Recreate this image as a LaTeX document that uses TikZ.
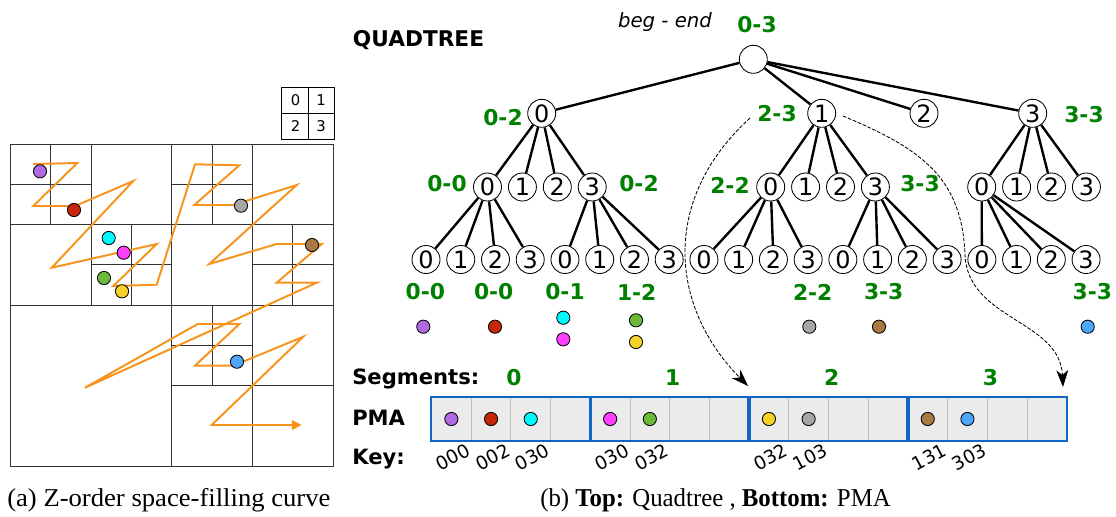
\documentclass[tikz,border=0pt]{standalone}
\usepackage{fontspec}
\setmainfont{Liberation Serif}
\setsansfont{DejaVu Sans}
\usepackage{xcolor}
\usepackage{tikz}
\usetikzlibrary{positioning,arrows.meta}

\definecolor{zcurve}{RGB}{247,148,30}
\definecolor{rangegreen}{RGB}{0,128,0}
\definecolor{segblue}{RGB}{16,100,196}
\definecolor{cellgray}{RGB}{235,235,235}
\definecolor{celledge}{RGB}{190,190,190}
\definecolor{cpurple}{RGB}{178,106,226}
\definecolor{cred}{RGB}{198,38,10}
\definecolor{ccyan}{RGB}{0,250,250}
\definecolor{cmagenta}{RGB}{255,64,255}
\definecolor{cgreen}{RGB}{108,186,60}
\definecolor{cyellow}{RGB}{245,210,40}
\definecolor{cgray}{RGB}{166,166,166}
\definecolor{cbrown}{RGB}{170,120,66}
\definecolor{cblue}{RGB}{78,166,250}

\newcommand{\fsz}[1]{\fontsize{#1}{#1}\selectfont}

\begin{document}
\begin{tikzpicture}[x=0.025cm, y=-0.025cm,
	qnode/.style={circle, draw, line width=0.6pt, minimum size=0.7cm, inner sep=0pt, font=\sffamily\fsz{17}},
	branch/.style={line width=1.7pt},
	rangelab/.style={text=rangegreen, font=\sffamily\bfseries\fsz{15.5}, inner sep=0pt},
	datum/.style={circle, draw, line width=0.6pt, fill=#1, minimum size=0.33cm, inner sep=0pt},
	cell/.style={rectangle, draw=celledge, fill=cellgray, line width=0.7pt, minimum width=0.9925cm, minimum height=1.085cm, inner sep=0pt},
	segbox/.style={draw=segblue, line width=1.8pt},
	keylab/.style={font=\sffamily\fsz{13.2}, rotate=28, inner sep=0pt},
	rowlab/.style={font=\sffamily\bfseries\fsz{15}, anchor=west, inner sep=0pt},
	gridline/.style={draw=black!80, line width=0.7pt},
	zpath/.style={draw=zcurve, line width=1.4pt, -{Triangle[length=7pt,width=7pt]}},
	link/.style={dash pattern=on 2.6pt off 1.2pt, line width=0.6pt, -{Stealth[length=12pt,width=8.5pt,inset=3.5pt]}},
	caption/.style={anchor=west, font=\fsz{18.3}, inner sep=0pt}]
	\useasboundingbox (0,0) rectangle (1116,516);

	% space filling curve
	\begin{scope}[shift={(10.7,144)}, scale=40.29]
		\draw[gridline] (0,0) rectangle (8,8);
		\draw[gridline] (4,0) -- (4,8) (0,4) -- (8,4) (0,2) -- (8,2) (6,0) -- (6,8)
			(2,0) -- (2,4) (1,0) -- (1,2) (0,1) -- (2,1) (3,2) -- (3,4) (2,3) -- (4,3)
			(5,0) -- (5,2) (4,1) -- (6,1) (7,2) -- (7,4) (6,3) -- (8,3)
			(4,6) -- (8,6) (5,4) -- (5,6) (4,5) -- (6,5);
	\end{scope}
	\draw[line width=0.7pt] (281.7,87.3) rectangle (334.5,139.3) (308,87.3) -- (308,139.3) (281.7,113.3) -- (334.5,113.3);
	\node[font=\sffamily\fsz{10.5}] (q0) at (295.5,100.3) {0};
	\node[font=\sffamily\fsz{10.5}] (q1) at (321,100.3) {1};
	\node[font=\sffamily\fsz{10.5}] (q2) at (295.5,126.3) {2};
	\node[font=\sffamily\fsz{10.5}] (q3) at (321,126.3) {3};

	\draw[zpath] (33.3,164) -- (77.3,163) -- (33.3,206) -- (75,206) -- (133.3,181) -- (51.7,267.7)
		-- (156.7,244) -- (113.3,286) -- (156.7,284.7) -- (195,164.3) -- (239.3,165.3) -- (194.3,205)
		-- (233.3,205) -- (296.7,185) -- (209.3,264) -- (276.7,244) -- (321.7,244) -- (276.7,282.7)
		-- (316.7,282.7) -- (85,387.7) -- (197.7,324) -- (239.3,324) -- (195,365.7) -- (233.3,365.7)
		-- (303.3,336.7) -- (211.7,425) -- (301.7,425);

	\node[datum=cpurple] (gpurple) at (40,171.3) {};
	\node[datum=cred] (gred) at (74,210) {};
	\node[datum=ccyan] (gcyan) at (108.7,238) {};
	\node[datum=cmagenta] (gmagenta) at (123.7,252.7) {};
	\node[datum=cgreen] (ggreen) at (104,278) {};
	\node[datum=cyellow] (gyellow) at (122,291.3) {};
	\node[datum=cgray] (ggray) at (241,205.7) {};
	\node[datum=cbrown] (gbrown) at (312,245) {};
	\node[datum=cblue] (gblue) at (237,361.7) {};

	% quadtree
	\node[font=\sffamily\bfseries\fsz{15.4}] (title) at (418.5,40.5) {QUADTREE};
	\node[font=\sffamily\itshape\fsz{14}] (begend) at (665,22) {beg - end};

	\node[qnode] (r) at (753.3,59.3) {};
	\node[qnode] (a0) at (541.7,113.3) {0};
	\node[qnode] (a1) at (821.7,113.3) {1};
	\node[qnode] (a2) at (924,113.3) {2};
	\node[qnode] (a3) at (1032.7,113.3) {3};
	\foreach \i in {0,...,3}
		\draw[branch] (r) -- (a\i);

	\foreach \p/\x in {0/487.5, 1/770.7, 3/981.7}
		\foreach \i in {0,...,3} {
			\node[qnode] (b\p\i) at (\x+34.9*\i,187) {\i};
			\draw[branch] (a\p) -- (b\p\i);
		}

	\foreach \k in {0,...,19} {
		\pgfmathtruncatemacro{\d}{mod(\k,4)}
		\node[qnode] (c\k) at (426+34.74*\k,259.5) {\d};
	}
	\foreach \p/\k in {b00/0, b03/4, b10/8, b13/12, b30/16}
		\foreach \j in {0,...,3} {
			\pgfmathtruncatemacro{\n}{\k+\j}
			\draw[branch] (\p) -- (c\n);
		}

	\node[rangelab] (l03) at (757,25) {0-3};
	\node[rangelab] (l02) at (503,118) {0-2};
	\node[rangelab] (l23) at (777,114) {2-3};
	\node[rangelab] (l33) at (1084,115) {3-3};
	\node[rangelab] (m00) at (447,184) {0-0};
	\node[rangelab] (m02) at (639,184) {0-2};
	\node[rangelab] (m22) at (730,185) {2-2};
	\node[rangelab] (m33) at (920,184) {3-3};
	\foreach \x/\t [count=\i] in {425.3/0-0, 493.7/0-0, 565/0-1, 636.7/1-2, 812.7/2-2, 883.7/3-3, 1092.3/3-3}
		\node[rangelab] (n\i) at (\x,292) {\t};

	\node[datum=cpurple] (tpurple) at (423.3,326.7) {};
	\node[datum=cred] (tred) at (495,326.7) {};
	\node[datum=ccyan] (tcyan) at (563.3,317.7) {};
	\node[datum=cmagenta] (tmagenta) at (563.3,339.3) {};
	\node[datum=cgreen] (tgreen) at (636,320.3) {};
	\node[datum=cyellow] (tyellow) at (636,342) {};
	\node[datum=cgray] (tgray) at (809.3,326.7) {};
	\node[datum=cbrown] (tbrown) at (879,326.7) {};
	\node[datum=cblue] (tblue) at (1087.7,326.7) {};

	% packed memory array
	\node[rowlab] (seglabel) at (352,378.5) {Segments:};
	\node[rowlab] (pmalabel) at (352,417.5) {PMA};
	\node[rowlab] (keylabel) at (352,459) {Key:};

	\foreach \k in {0,...,15}
		\node[cell] (p\k) at (451.35+39.7*\k,419) {};
	\foreach \s in {0,...,3} {
		\pgfmathtruncatemacro{\a}{4*\s}
		\pgfmathtruncatemacro{\b}{4*\s+3}
		\draw[segbox] (p\a.north west) rectangle (p\b.south east);
		\node[text=rangegreen, font=\sffamily\bfseries\fsz{15.5}] (s\s) at (514+158.8*\s,377.5) {\s};
	}

	\node[datum=cpurple] (ppurple) at (p0) {};
	\node[datum=cred] (pred) at (p1) {};
	\node[datum=ccyan] (pcyan) at (p2) {};
	\node[datum=cmagenta] (pmagenta) at (p4) {};
	\node[datum=cgreen] (pgreen) at (p5) {};
	\node[datum=cyellow] (pyellow) at (p8) {};
	\node[datum=cgray] (pgray) at (p9) {};
	\node[datum=cbrown] (pbrown) at (p12) {};
	\node[datum=cblue] (pblue) at (p13) {};

	\foreach \k/\t in {0/000, 1/002, 2/030, 4/030, 5/032, 8/032, 9/103, 12/131, 13/303}
		\node[keylab] (k\k) at (453+39.7*\k,457) {\t};

	\coordinate (from1) at (750,118);
	\coordinate (to1) at (748,386);
	\draw[link] (from1) .. controls (660,200) and (670,307) .. (to1);
	\coordinate (from2) at (843,116);
	\coordinate (bend2) at (965,255);
	\coordinate (to2) at (1063,387);
	\draw[link] (from2) .. controls (925,150) and (962,180) .. (bend2) .. controls (968,320) and (1060,320) .. (to2);

	\node[caption, xscale=1.035] (capa) at (7,500) {(a) Z-order space-filling curve};
	\node[caption, xscale=0.964] (capb) at (540,500) {(b) \textbf{Top:} Quadtree , \textbf{Bottom:} PMA};
\end{tikzpicture}
\end{document}
